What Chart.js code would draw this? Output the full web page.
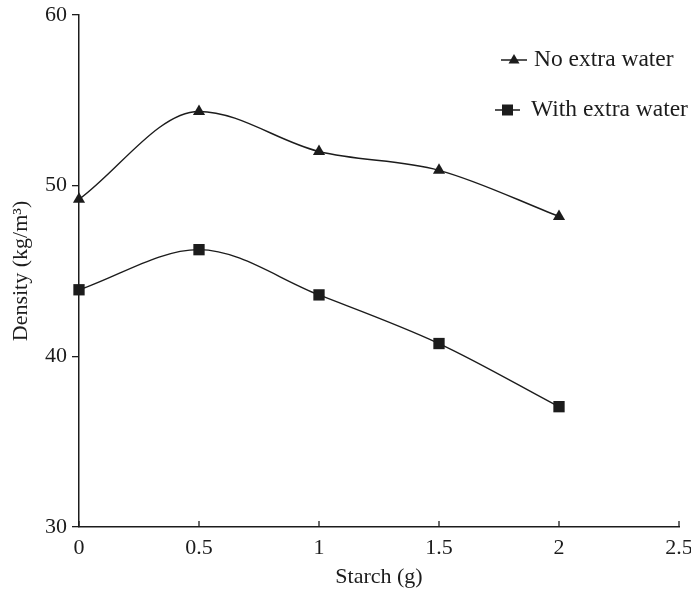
<!DOCTYPE html>
<html>
<head>
<meta charset="utf-8">
<script src="https://cdn.jsdelivr.net/npm/chart.js@4"></script>
<style>
  html, body { margin: 0; padding: 0; background: #fff; }
  canvas { display: block; }
</style>
</head>
<body>
<canvas id="myChart" width="691" height="592" style="width:691px;height:592px"></canvas>
<script>
// data
const starch = [0, 0.5, 1, 1.5, 2];
const noExtraWater = [49.2, 54.35, 52.0, 50.9, 48.2];
const withExtraWater = [43.9, 46.25, 43.6, 40.75, 37.05];
const xTicks = [0, 0.5, 1, 1.5, 2, 2.5];
const xTickLabels = ['0', '0.5', '1', '1.5', '2', '2.5'];
const yTicks = [30, 40, 50, 60];
const seriesNames = ['No extra water', 'With extra water'];

const ink = '#1c1c1c';
const serif = '"Liberation Serif", "DejaVu Serif", serif';

function toPoints(ys) {
    return starch.map((x, i) => ({ x: x, y: ys[i] }));
}

// x ticks point up into the plot
const innerTicks = {
    id: 'innerTicks',
    afterDraw(chart) {
        const ctx = chart.ctx;
        const x = chart.scales.x;
        const bottom = chart.chartArea.bottom;
        ctx.save();
        ctx.strokeStyle = ink;
        ctx.lineWidth = 1.3;
        xTicks.forEach(v => {
            const px = x.getPixelForValue(v);
            ctx.beginPath();
            ctx.moveTo(px, bottom);
            ctx.lineTo(px, bottom - 6);
            ctx.stroke();
        });
        ctx.restore();
    }
};

// legend: short line with marker, then label
const lineLegend = {
    id: 'lineLegend',
    afterDraw(chart) {
        const ctx = chart.ctx;
        const area = chart.chartArea;
        const items = [
            { style: 'triangle', x0: area.right - 178, x1: area.right - 152, y: area.top + 45, tx: area.right - 145 },
            { style: 'rect', x0: area.right - 184, x1: area.right - 159, y: area.top + 95, tx: area.right - 148 }
        ];
        ctx.save();
        items.forEach((it, i) => {
            ctx.strokeStyle = ink;
            ctx.fillStyle = ink;
            ctx.lineWidth = 1.5;
            ctx.beginPath();
            ctx.moveTo(it.x0, it.y);
            ctx.lineTo(it.x1, it.y);
            ctx.stroke();
            const cx = (it.x0 + it.x1) / 2;
            ctx.beginPath();
            if (it.style === 'triangle') {
                ctx.moveTo(cx, it.y - 6);
                ctx.lineTo(cx + 5.5, it.y + 3.5);
                ctx.lineTo(cx - 5.5, it.y + 3.5);
                ctx.closePath();
            } else {
                ctx.rect(cx - 5.5, it.y - 5.5, 11, 11);
            }
            ctx.fill();
            ctx.font = '23.5px ' + serif;
            ctx.textBaseline = 'middle';
            ctx.fillText(seriesNames[i], it.tx, it.y);
        });
        ctx.restore();
    }
};

const ctx = document.getElementById('myChart').getContext('2d');

const myChart = new Chart(ctx, {
    type: 'line',
    data: {
        datasets: [
            {
                label: seriesNames[0],
                data: toPoints(noExtraWater),
                borderColor: ink,
                backgroundColor: ink,
                borderWidth: 1.4,
                pointStyle: 'triangle',
                pointRadius: 7,
                pointBorderWidth: 0,
                cubicInterpolationMode: 'monotone',
                clip: false
            },
            {
                label: seriesNames[1],
                data: toPoints(withExtraWater),
                borderColor: ink,
                backgroundColor: ink,
                borderWidth: 1.4,
                pointStyle: 'rect',
                pointRadius: 8,
                pointBorderWidth: 0,
                cubicInterpolationMode: 'monotone',
                clip: false
            }
        ]
    },
    options: {
        responsive: false,
        animation: false,
        layout: { padding: { top: 15, right: 12, left: 0, bottom: 0 } },
        plugins: {
            legend: { display: false },
            tooltip: { enabled: false }
        },
        scales: {
            x: {
                type: 'linear',
                min: 0,
                max: 2.5,
                afterBuildTicks: s => { s.ticks = xTicks.map(v => ({ value: v })); },
                afterFit: s => {
                    s.height = 65;
                    s.paddingLeft = 0; s.paddingRight = 0;
                },
                grid: { display: true, drawOnChartArea: false, drawTicks: false },
                border: { color: ink, width: 1.5 },
                ticks: {
                    color: ink,
                    padding: 8,
                    maxRotation: 0,
                    autoSkip: false,
                    font: { family: serif, size: 22 },
                    callback: (v) => xTickLabels[xTicks.indexOf(v)]
                },
                title: {
                    display: true,
                    text: 'Starch (g)',
                    color: ink,
                    font: { family: serif, size: 22, lineHeight: 1.2 },
                    padding: { top: 0, bottom: 2 }
                }
            },
            y: {
                min: 30,
                max: 60,
                afterBuildTicks: s => { s.ticks = yTicks.map(v => ({ value: v })); },
                afterFit: s => {
                    s.width = 79;
                    s.paddingTop = 0; s.paddingBottom = 0;
                },
                grid: { drawOnChartArea: false, tickLength: 7, color: ink, lineWidth: 1.3 },
                border: { color: ink, width: 1.5 },
                ticks: {
                    color: ink,
                    padding: 5,
                    font: { family: serif, size: 22 }
                },
                title: {
                    display: true,
                    text: 'Density (kg/m³)',
                    color: ink,
                    font: { family: serif, size: 22, lineHeight: 1.2 },
                    padding: { top: 8, bottom: 0 }
                }
            }
        }
    },
    plugins: [innerTicks, lineLegend]
});
</script>
</body>
</html>
